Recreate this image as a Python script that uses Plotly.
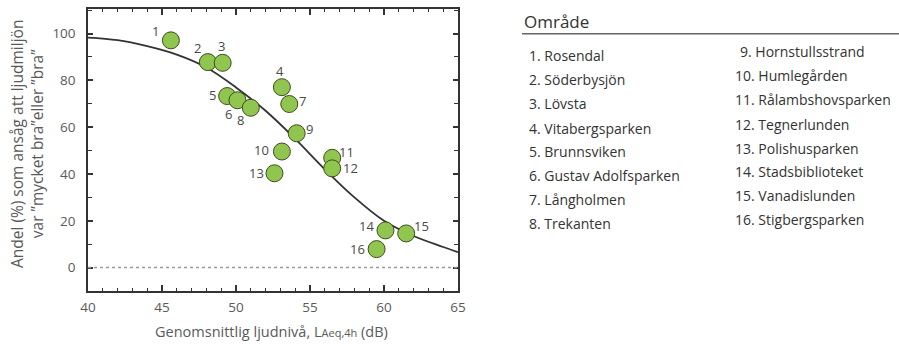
import plotly.graph_objects as go

# Parks: average sound level (dB) vs. share rating the soundscape good/very good (%)
park_nr = list(range(1, 17))
park_names = [
    "Rosendal", "Söderbysjön", "Lövsta", "Vitabergsparken", "Brunnsviken",
    "Gustav Adolfsparken", "Långholmen", "Trekanten", "Hornstullsstrand",
    "Humlegården", "Rålambshovsparken", "Tegnerlunden", "Polishusparken",
    "Stadsbiblioteket", "Vanadislunden", "Stigbergsparken",
]
laeq = [45.6, 48.1, 49.1, 53.1, 49.4, 50.1, 53.6, 51.0,
        54.1, 53.1, 56.5, 56.5, 52.6, 60.1, 61.5, 59.5]
andel_bra = [97.1, 87.8, 87.5, 77.1, 73.3, 71.5, 69.9, 68.3,
             57.4, 49.6, 46.9, 42.4, 40.3, 15.9, 14.6, 7.9]

# Fitted dose-response curve
curve_x = [40, 42, 44, 46, 48, 50, 52, 54, 56, 58, 60, 62, 64, 65]
curve_y = [98.3, 97.2, 94.6, 91.0, 85.5, 77.0, 67.0, 55.0, 42.0, 30.0, 20.0, 13.5, 8.8, 6.6]

x_ticks = [40, 45, 50, 55, 60, 65]
y_ticks = [0, 20, 40, 60, 80, 100]

# label offsets (px) for the point numbers
label_dx = [-15, -10, -1, -2, -15, -9, 13, -10, 13, -20, 14, 18, -18, -19, 15, -19]
label_dy = [9, 14, 17, 16, 1, -14, 3, -12, 4, 2, 6, 0, 0, 4, 7, 0]

W, H = 899, 344
L, R, T, B = 88, 458, 7, 291
FONT = "Open Sans"
GREY = "#5a5a5a"


def px(x):
    return (x - L) / (R - L)


def py(y):
    return (B - y) / (B - T)


fig = go.Figure()

fig.add_trace(go.Scatter(
    x=curve_x, y=curve_y, mode="lines", line=dict(color="#333333", width=1.8, shape="spline"),
    hoverinfo="skip", showlegend=False,
))

fig.add_trace(go.Scatter(
    x=laeq, y=andel_bra, mode="markers",
    marker=dict(size=17, color="#90c650", line=dict(color="#3d4d1f", width=1)),
    text=park_names, showlegend=False,
))

annotations = []
for n, x, y, dx, dy in zip(park_nr, laeq, andel_bra, label_dx, label_dy):
    annotations.append(dict(
        x=x, y=y, xref="x", yref="y", text=str(n), showarrow=False,
        xshift=dx, yshift=dy, font=dict(family=FONT, size=13, color="#4a4a4a"),
    ))

# y-axis title
annotations.append(dict(
    x=px(27), y=py(143), xref="paper", yref="paper", showarrow=False,
    text="Andel (%) som ansåg att ljudmiljön<br>var ”mycket bra”eller ”bra”",
    textangle=-90, font=dict(family=FONT, size=15.5, color=GREY),
    xanchor="center", yanchor="middle",
))
# x-axis title
annotations.append(dict(
    x=px(271), y=py(332), xref="paper", yref="paper", showarrow=False,
    text="Genomsnittlig ljudnivå, L<span style='font-size:11px'>Aeq,4h</span> (dB)",
    font=dict(family=FONT, size=14.5, color=GREY), xanchor="center", yanchor="middle",
))

# key of areas
annotations.append(dict(
    x=px(522), y=py(20), xref="paper", yref="paper", showarrow=False, text="Område",
    font=dict(family=FONT, size=17, color="#333333"), xanchor="left", yanchor="middle",
))
col1_y = [54, 78, 102, 127, 151, 175, 199, 223]
col2_y = [50, 74, 98, 123, 147, 171, 195, 219]
for i, (n, name) in enumerate(zip(park_nr, park_names)):
    if i < 8:
        xp, yp = 527, col1_y[i]
    else:
        xp, yp = (738 if n < 10 else 733), col2_y[i - 8]
    annotations.append(dict(
        x=px(xp), y=py(yp), xref="paper", yref="paper", showarrow=False,
        text=f"{n}. {name}", font=dict(family=FONT, size=14, color="#333333"),
        xanchor="left", yanchor="middle",
    ))

shapes = [
    dict(type="line", xref="paper", yref="y", x0=0, x1=1, y0=0, y1=0,
         line=dict(color="#9a9a9a", width=1.5, dash="dot")),
    dict(type="line", xref="paper", yref="paper", x0=px(522), x1=px(899), y0=py(32), y1=py(32),
         line=dict(color="#666666", width=1.5)),
]

fig.update_layout(
    width=W, height=H,
    margin=dict(l=L, r=W - R, t=T, b=H - B),
    paper_bgcolor="white", plot_bgcolor="white",
    font=dict(family=FONT, color=GREY),
    annotations=annotations, shapes=shapes,
    xaxis=dict(
        range=[40, 65], tickvals=x_ticks, showgrid=False, zeroline=False,
        showline=True, mirror="ticks", linecolor="#333333", linewidth=1.5,
        ticks="inside", ticklen=6, tickwidth=1.5, tickcolor="#333333",
        minor=dict(dtick=1, ticks="inside", ticklen=3, tickwidth=1.2, tickcolor="#333333", showgrid=False),
        tickfont=dict(family=FONT, size=13.5, color=GREY), ticklabelstandoff=3,
    ),
    yaxis=dict(
        range=[-10, 110.5], tickvals=y_ticks, showgrid=False, zeroline=False,
        showline=True, mirror="ticks", linecolor="#333333", linewidth=1.5,
        ticks="inside", ticklen=5, tickwidth=1.5, tickcolor="#333333",
        minor=dict(tickvals=[-10, 10, 30, 50, 70, 90, 110], ticks="inside", ticklen=4,
                   tickwidth=1.2, tickcolor="#333333", showgrid=False),
        tickfont=dict(family=FONT, size=13.5, color=GREY), ticklabelstandoff=8,
    ),
)

fig.write_html("out.html")
